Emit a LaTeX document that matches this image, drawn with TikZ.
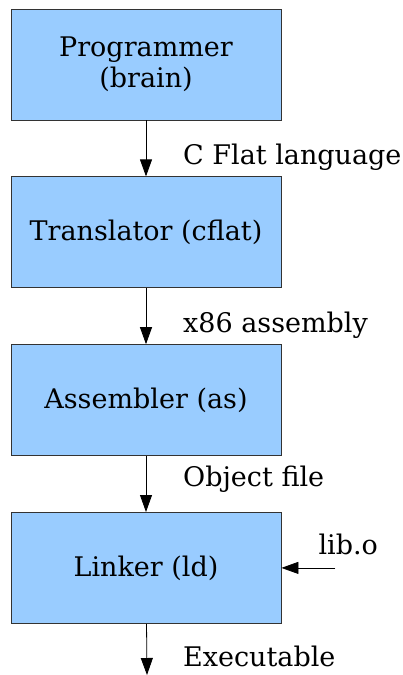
\documentclass[tikz,border=0pt]{standalone}
\usepackage{fontspec}
\setmainfont{DejaVu Serif}
\usetikzlibrary{arrows.meta, positioning}
\definecolor{boxblue}{HTML}{99CCFF}

\begin{document}
\begin{tikzpicture}[
x=1pt, y=-1pt,
node distance=56pt,
box/.style={draw=black!80, line width=0.8pt, fill=boxblue, align=center, minimum width=270pt, minimum height=111pt, inner sep=0pt, font=\fontsize{27}{31}\selectfont},
lbl/.style={anchor=base west, inner sep=0pt, font=\fontsize{27}{31}\selectfont},
arrow/.style={-{Triangle[length=17pt, width=12pt]}, line width=0.8pt}
]
\useasboundingbox (0,0) rectangle (403,675);

\node[box] (prog) at (146,64.5) {Programmer\\(brain)};
\node[box, below=of prog] (trans) {Translator (cflat)};
\node[box, below=of trans] (asm) {Assembler (as)};
\node[box, below=of asm] (link) {Linker (ld)};

\node[lbl] (lang) at ([xshift=37pt, yshift=12pt]trans.north) {C Flat language};
\node[lbl] (asmtxt) at ([xshift=37pt, yshift=12pt]asm.north) {x86 assembly};
\node[lbl] (obj) at ([xshift=37pt, yshift=26pt]link.north) {Object file};
\node[lbl] (exe) at ([xshift=37pt, yshift=-43pt]link.south) {Executable};
\node[lbl] (lib) at ([xshift=37pt, yshift=13pt]link.east) {lib.o};

\coordinate (libin) at ([xshift=54pt]link.east);
\coordinate (out) at (147,675);

\draw[arrow] (prog) -- (trans);
\draw[arrow] (trans) -- (asm);
\draw[arrow] (asm) -- (link);
\draw[arrow] (libin) -- (link);
\draw[arrow] (link) -- (out);

\end{tikzpicture}
\end{document}
